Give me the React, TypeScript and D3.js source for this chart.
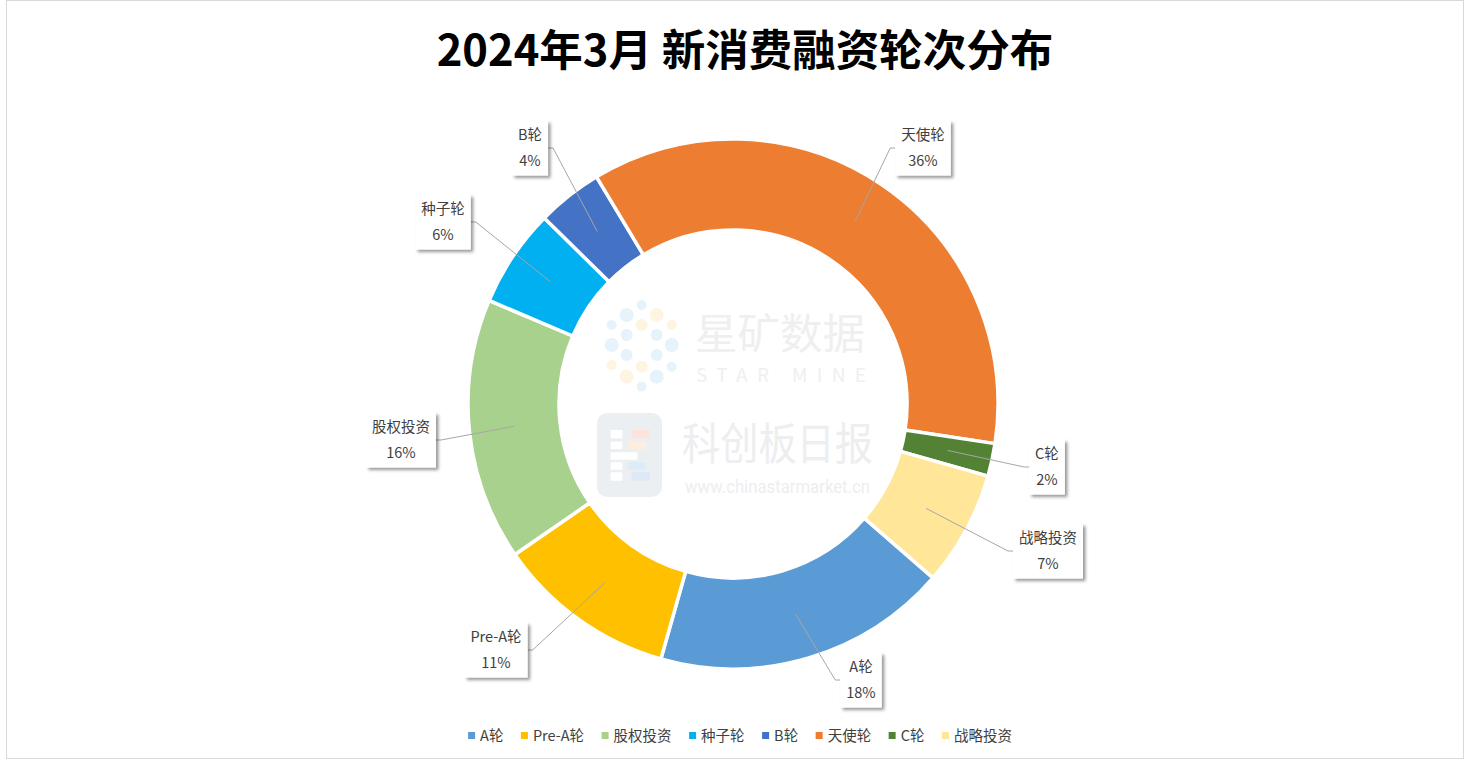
import React, { useEffect, useRef } from "react";
import * as d3 from "d3";

const categories = ["A轮", "Pre-A轮", "股权投资", "种子轮", "B轮", "天使轮", "C轮", "战略投资"];
const shares = [18, 11, 16, 6, 4, 36, 2, 7];
const colors = ["#5B9BD5", "#FFC000", "#A9D18E", "#00B0F0", "#4472C4", "#ED7D31", "#548235", "#FFE699"];
const title = "2024年3月 新消费融资轮次分布";

// layout of the callout boxes (centre positions)
const labelPos: [number, number][] = [
  [861, 680],
  [496, 650],
  [401, 440],
  [443, 222],
  [530, 148],
  [923, 148],
  [1047, 467],
  [1048, 551],
];

const W = 1470;
const H = 770;
const CX = 733;
const CY = 404;
const R_OUT = 265;
const R_IN = 174;
const FONT = "'Noto Sans CJK SC', 'Noto Sans', sans-serif";

export default function App() {
  const ref = useRef<SVGSVGElement>(null);

  useEffect(() => {
    const svg = d3.select(ref.current);
    svg.selectAll("*").remove();

    const defs = svg.append("defs");
    const f = defs.append("filter").attr("id", "shadow").attr("x", "-30%").attr("y", "-30%").attr("width", "160%").attr("height", "160%");
    f.append("feDropShadow").attr("dx", 2.5).attr("dy", 2.5).attr("stdDeviation", 1.8).attr("flood-color", "#000").attr("flood-opacity", 0.4);

    svg.append("rect").attr("x", 0).attr("y", 0).attr("width", W).attr("height", H).attr("fill", "#fff");
    svg.append("rect").attr("x", 6.5).attr("y", 0.5).attr("width", 1457).attr("height", 758).attr("fill", "none").attr("stroke", "#d9d9d9").attr("stroke-width", 1);

    // title
    svg.append("text").attr("x", 745).attr("y", 66).attr("text-anchor", "middle")
      .attr("font-family", FONT).attr("font-weight", "bold").attr("font-size", 43.5).attr("fill", "#000").text(title);

    // donut
    const data = categories.map((c, i) => ({ c, v: shares[i], color: colors[i], pos: labelPos[i] }));
    const start = (131 * Math.PI) / 180;
    const pie = d3.pie<any>().sort(null).value((d) => d.v).startAngle(start).endAngle(start + 2 * Math.PI);
    const arcs = pie(data);
    const arc = d3.arc<any>().innerRadius(R_IN).outerRadius(R_OUT);
    const mid = d3.arc<any>().innerRadius((R_IN + R_OUT) / 2).outerRadius((R_IN + R_OUT) / 2);
    const total = d3.sum(shares);

    const g = svg.append("g").attr("transform", `translate(${CX},${CY})`);
    g.selectAll("path.slice").data(arcs).join("path").attr("class", "slice")
      .attr("d", arc as any).attr("fill", (d: any) => d.data.color).attr("stroke", "#fff").attr("stroke-width", 3.5).attr("stroke-linejoin", "miter");

    // watermark
    const wm = svg.append("g");
    const dots: [number, number, number, string][] = [
      [185, 45, 5, "#e6f3fb"], [140, 75, 7, "#e6f3fb"], [230, 75, 7, "#fdf5e0"], [95, 105, 5, "#e6f3fb"], [185, 105, 6, "#fdf5e0"], [275, 105, 5, "#fdf5e0"],
      [140, 135, 6, "#e6f3fb"], [230, 135, 6, "#e6f3fb"], [95, 165, 7, "#e6f3fb"], [275, 165, 7, "#e6f3fb"], [140, 195, 6, "#e6f3fb"], [230, 195, 6, "#e6f3fb"],
      [95, 225, 5, "#fdf5e0"], [185, 230, 6, "#fdf5e0"], [275, 230, 5, "#e6f3fb"], [140, 260, 7, "#fdf5e0"], [230, 260, 7, "#e6f3fb"], [185, 290, 5, "#e6f3fb"],
    ];
    dots.forEach(([x, y, r, c]) => wm.append("circle").attr("cx", 580 + x / 3).attr("cy", 290 + y / 3).attr("r", r).attr("fill", c));
    wm.append("text").attr("x", 695).attr("y", 349).attr("font-family", FONT).attr("font-size", 42)
      .attr("textLength", 170).attr("lengthAdjust", "spacingAndGlyphs").attr("fill", "#efefef").text("星矿数据");
    wm.append("text").attr("x", 696).attr("y", 382).attr("font-family", FONT).attr("font-size", 19)
      .attr("textLength", 170).attr("lengthAdjust", "spacing").attr("fill", "#efefef").text("STAR MINE");
    wm.append("rect").attr("x", 597).attr("y", 413).attr("width", 65).attr("height", 84).attr("rx", 10).attr("fill", "#eceff2");
    const bars: [number, number, number, number, string][] = [
      [92, 420, 35, 25, "#fff"], [155, 420, 55, 25, "#fde3dc"], [92, 455, 35, 22, "#fff"], [145, 455, 52, 22, "#fdeedd"],
      [92, 487, 80, 22, "#fff"], [92, 517, 35, 22, "#fff"], [145, 517, 52, 22, "#dcecf8"], [92, 547, 35, 25, "#fff"], [155, 547, 55, 25, "#dfe8f8"],
    ];
    bars.forEach(([x, y, w, h, c]) => wm.append("rect").attr("x", 580 + x / 3).attr("y", 290 + y / 3).attr("width", w / 3).attr("height", h / 3).attr("fill", c));
    wm.append("text").attr("x", 682).attr("y", 460).attr("font-family", FONT).attr("font-size", 44)
      .attr("textLength", 191).attr("lengthAdjust", "spacingAndGlyphs").attr("fill", "#eceef0").text("科创板日报");
    wm.append("text").attr("x", 685).attr("y", 493).attr("font-family", "Roboto, sans-serif").attr("font-size", 18)
      .attr("textLength", 185).attr("lengthAdjust", "spacingAndGlyphs").attr("fill", "#eceef0").text("www.chinastarmarket.cn");

    // labels
    const lg = svg.append("g");
    arcs.forEach((a: any) => {
      const [bx, by] = a.data.pos;
      const [mx, my] = mid.centroid(a);
      const px = CX + mx;
      const py = CY + my;
      const t1 = a.data.c;
      const t2 = Math.round((a.data.v / total) * 100) + "%";
      const grp = lg.append("g");
      const text1 = grp.append("text").attr("x", bx).attr("y", by - 8).attr("text-anchor", "middle")
        .attr("font-family", FONT).attr("font-size", 14.5).attr("fill", "#404040").text(t1);
      const text2 = grp.append("text").attr("x", bx).attr("y", by + 18).attr("text-anchor", "middle")
        .attr("font-family", FONT).attr("font-size", 14.5).attr("fill", "#404040").text(t2);
      const w = Math.max((text1.node() as SVGTextElement).getComputedTextLength(), (text2.node() as SVGTextElement).getComputedTextLength()) + 12;
      const h = 55;
      const left = px < bx;
      const ex = left ? bx - w / 2 : bx + w / 2;
      const elbow = left ? ex - 5 : ex + 5;
      lg.insert("path", ":first-child").attr("d", `M${ex},${by}L${elbow},${by}L${px},${py}`)
        .attr("fill", "none").attr("stroke", "#a6a6a6").attr("stroke-width", 1);
      grp.insert("rect", ":first-child").attr("x", bx - w / 2).attr("y", by - h / 2).attr("width", w).attr("height", h)
        .attr("fill", "#fff").attr("filter", "url(#shadow)");
    });

    // legend
    const leg = svg.append("g");
    const items: { g: any; w: number }[] = [];
    data.forEach((d) => {
      const ig = leg.append("g");
      ig.append("rect").attr("x", 0).attr("y", -4).attr("width", 7).attr("height", 7).attr("fill", d.color);
      const t = ig.append("text").attr("x", 12).attr("y", 5).attr("font-family", FONT).attr("font-size", 14.5).attr("fill", "#404040").text(d.c);
      items.push({ g: ig, w: 12 + (t.node() as SVGTextElement).getComputedTextLength() });
    });
    const gap = 17.5;
    const totalW = d3.sum(items, (d) => d.w) + gap * (items.length - 1);
    let x = 740 - totalW / 2;
    items.forEach((it) => {
      it.g.attr("transform", `translate(${x},736)`);
      x += it.w + gap;
    });
  }, []);

  return (
    <svg ref={ref} width={W} height={H} style={{ position: "absolute", left: 0, top: 0, display: "block" }} />
  );
}
